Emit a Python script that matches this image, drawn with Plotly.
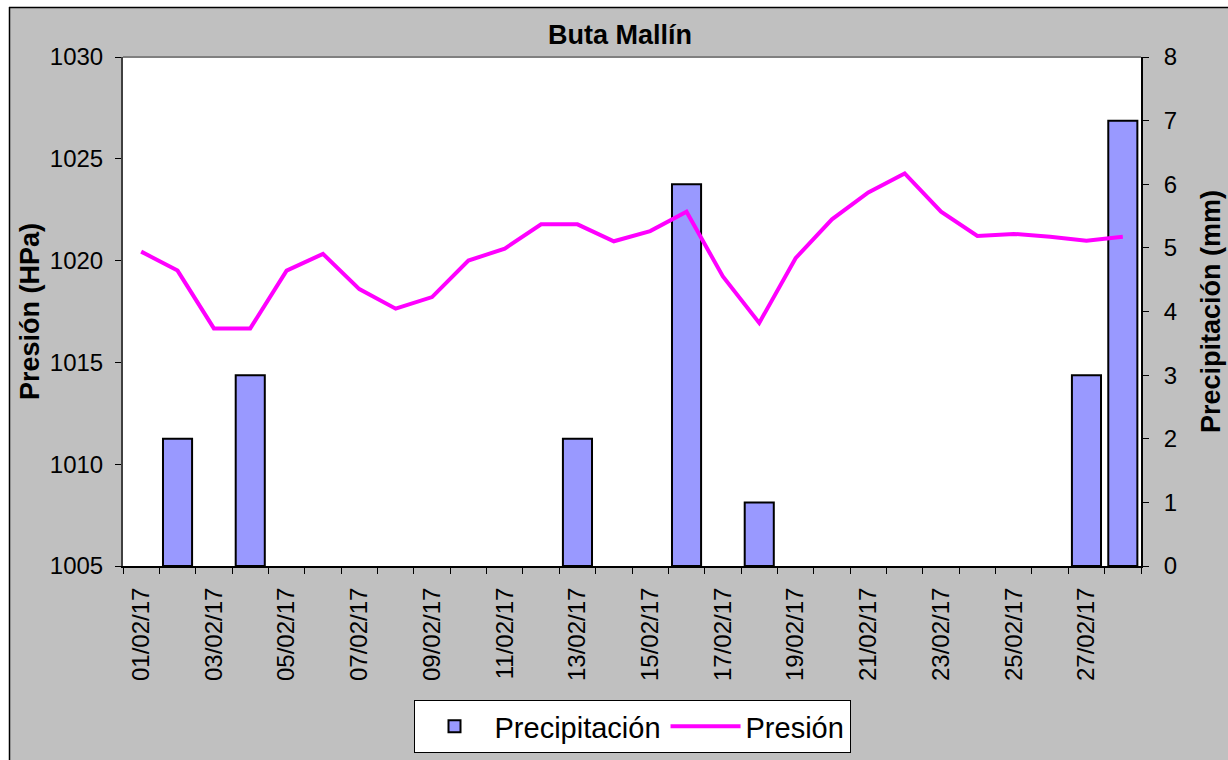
import plotly.graph_objects as go

# días de febrero 2017
fechas = ['%02d/02/17' % d for d in range(1, 29)]

# precipitación diaria (mm)
precipitacion = [0, 2, 0, 3, 0, 0, 0, 0, 0, 0, 0, 0, 2, 0,
                 0, 6, 0, 1, 0, 0, 0, 0, 0, 0, 0, 0, 3, 7]

# presión (HPa)
presion = [1020.44, 1019.51, 1016.67, 1016.67, 1019.51, 1020.33, 1018.6,
           1017.64, 1018.21, 1020.0, 1020.59, 1021.78, 1021.78, 1020.95,
           1021.45, 1022.4, 1019.22, 1016.94, 1020.12, 1022.03, 1023.35,
           1024.28, 1022.4, 1021.21, 1021.31, 1021.17, 1020.98, 1021.17]

W, H = 1228, 760
L, R, T, B = 123, 1141, 57, 566
FONT = 'Liberation Sans, Arial, sans-serif'

def fx(px):
    return (px - L) / (R - L)

def fy(py):
    return (B - py) / (B - T)

idx = list(range(len(fechas)))
barras = [v if v else None for v in precipitacion]

data_g = [
    go.Bar(x=idx, y=barras, name='Precipitación', width=0.8,
           marker=dict(color='#9999FF', line=dict(color='black', width=2)),
           yaxis='y'),
    go.Scatter(x=idx, y=presion, name='Presión', mode='lines',
               line=dict(color='#FF00FF', width=4), yaxis='y2'),
]

shapes = [
    # white strip + black frame at the top-left corner
    dict(type='rect', xref='paper', yref='paper', layer='below',
         x0=fx(-5), x1=fx(W + 5), y0=fy(7), y1=fy(-5),
         fillcolor='white', line=dict(width=0)),
    dict(type='rect', xref='paper', yref='paper', layer='below',
         x0=fx(-5), x1=fx(9), y0=fy(H + 5), y1=fy(7),
         fillcolor='white', line=dict(width=0)),
    dict(type='line', xref='paper', yref='paper', layer='below',
         x0=fx(9), x1=fx(W + 5), y0=fy(7.5), y1=fy(7.5),
         line=dict(color='black', width=1.5)),
    dict(type='line', xref='paper', yref='paper', layer='below',
         x0=fx(9.5), x1=fx(9.5), y0=fy(7), y1=fy(H + 5),
         line=dict(color='black', width=1.5)),
    dict(type='line', xref='paper', yref='paper',
         x0=0, x1=1, y0=1, y1=1, line=dict(color='#808080', width=2)),
]

layout = go.Layout(
    width=W, height=H,
    margin=dict(l=L, r=W - R, t=T, b=H - B, autoexpand=False),
    paper_bgcolor='#C0C0C0', plot_bgcolor='white',
    font=dict(family=FONT, color='black', size=24),
    title=dict(text='Buta Mallín', x=fx(620), xref='paper', xanchor='center',
               y=1 - 35 / H, yref='container', yanchor='middle',
               font=dict(size=27, weight='bold')),
    xaxis=dict(range=[-0.5, 27.5], tickvals=idx[::2], ticktext=fechas[::2],
               tickangle=-90, ticks='', showgrid=False, zeroline=False,
               showline=True, linecolor='black', linewidth=2,
               ticklabelstandoff=10, automargin=False,
               minor=dict(ticks='outside', tick0=-0.5, dtick=1, ticklen=6,
                          tickcolor='black', showgrid=False)),
    yaxis=dict(range=[0, 8], dtick=1, side='right', ticks='outside',
               ticklen=6, tickcolor='black', showgrid=False, zeroline=False,
               showline=True, linecolor='black', linewidth=2,
               ticklabelstandoff=10, automargin=False,
               title=dict(text='Precipitación (mm)', standoff=25,
                          font=dict(size=27, weight='bold'))),
    yaxis2=dict(range=[1005, 1030], dtick=5, side='left', overlaying='y',
                ticks='outside', ticklen=6, tickcolor='black',
                showgrid=False, zeroline=False, showline=True,
                linecolor='#404040', linewidth=2, ticklabelstandoff=7,
                automargin=False,
                title=dict(text='Presión (HPa)', standoff=2,
                           font=dict(size=27, weight='bold'))),
    legend=dict(orientation='h', x=fx(632), xanchor='center', y=fy(700),
                yanchor='top', bgcolor='white', bordercolor='black',
                borderwidth=1, font=dict(size=29), itemwidth=70),
    shapes=shapes,
    showlegend=True,
)

fig = go.Figure(data=data_g, layout=layout)
# no page margin, so the figure sits at the window's corner
fig.write_html('out.html', config={'displayModeBar': False},
               post_script="document.body.style.margin='0';")
